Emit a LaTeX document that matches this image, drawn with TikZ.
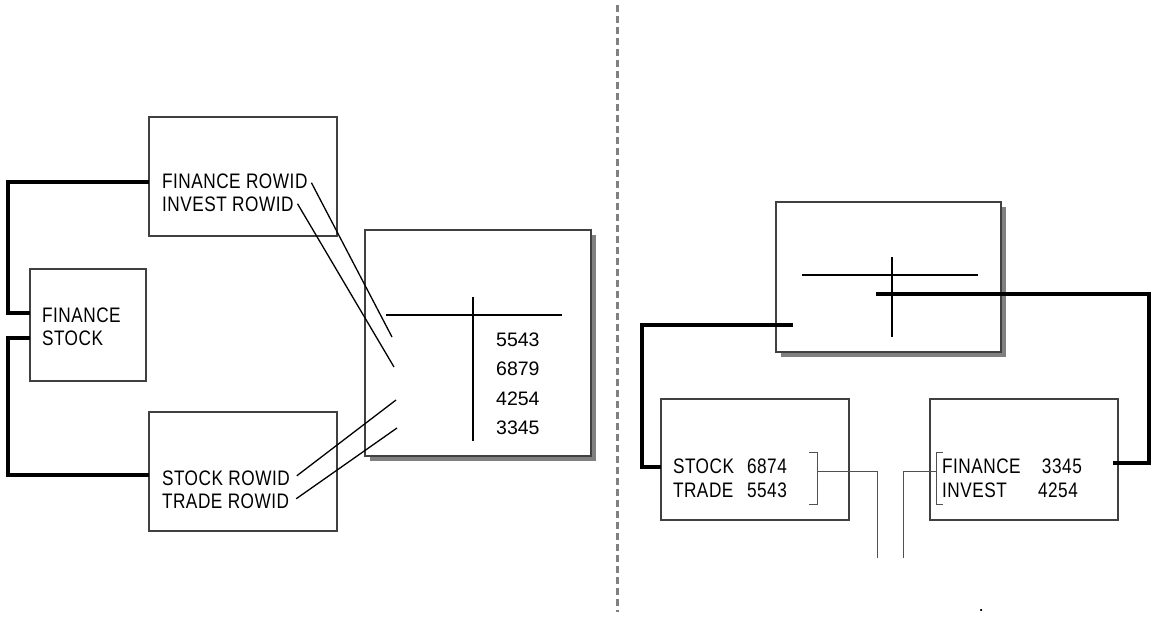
\documentclass[tikz,border=0pt]{standalone}
\usepackage{fontspec}
\setmainfont{Liberation Sans}
\newfontfamily\narrowfont[FakeStretch=0.82,LetterSpace=2.5]{Liberation Sans}
\usetikzlibrary{shadows}
\definecolor{boxgray}{HTML}{404040}
\definecolor{shadowgray}{HTML}{808080}
\definecolor{brgray}{HTML}{505050}
\begin{document}
\begin{tikzpicture}[x=1pt,y=-1pt,
  box/.style={draw=boxgray, line width=1.5pt, fill=white, inner sep=0pt, outer sep=0pt, rectangle},
  shbox/.style={box, general shadow={fill=shadowgray, shadow xshift=5pt, shadow yshift=-5pt}},
  lbl/.style={font=\narrowfont\fontsize{21}{21}\selectfont, anchor=base west, inner sep=0pt, outer sep=0pt},
  num/.style={font=\fontsize{19.5}{19.5}\selectfont, anchor=base west, inner sep=0pt},
  link/.style={line width=3.4pt, line join=miter},
  thinlink/.style={line width=1.3pt},
  crossline/.style={line width=2.5pt},
  brline/.style={draw=brgray, line width=1pt},
  divider/.style={draw=shadowgray, line width=3pt, dash pattern=on 7pt off 4pt}
]
\useasboundingbox (0,0) rectangle (1155,617);

% divider
\coordinate (dv1) at (617,5);
\coordinate (dv2) at (617,612);
\draw[divider] (dv1) -- (dv2);

% ---------- left part ----------
\node[box, minimum width=188pt, minimum height=119pt] (L1) at (243,176.5) {};
\node[box, minimum width=116pt, minimum height=112pt] (L2) at (88,325) {};
\node[box, minimum width=188pt, minimum height=119pt] (L3) at (243,471.5) {};
\node[shbox, minimum width=226pt, minimum height=226pt] (R) at (478,343) {};

\node[lbl] (t1) at (162,189) {FINANCE ROWID};
\node[lbl] (t2) at (162,212) {INVEST ROWID};
\node[lbl] (t3) at (42,322) {FINANCE};
\node[lbl] (t4) at (42,345) {STOCK};
\node[lbl] (t5) at (162,485) {STOCK ROWID};
\node[lbl] (t6) at (162,508) {TRADE ROWID};

\node[num] (n1) at (496,346) {5543};
\node[num] (n2) at (496,375.5) {6879};
\node[num] (n3) at (496,405) {4254};
\node[num] (n4) at (496,434) {3345};

% cross in R
\coordinate (rh1) at (386,315); \coordinate (rh2) at (562,315);
\coordinate (rv1) at (473,297); \coordinate (rv2) at (473,441);
\draw[crossline] (rh1) -- (rh2);
\draw[crossline] (rv1) -- (rv2);

% diagonal pointers
\coordinate (e1) at (392,337);
\coordinate (e2) at (394,367);
\coordinate (e3) at (396,400);
\coordinate (e4) at (397,428);
\draw[thinlink] ([xshift=4pt,yshift=-1pt]t1.east) -- (e1);
\draw[thinlink] ([xshift=4pt,yshift=1pt]t2.east) -- (e2);
\draw[thinlink] ([xshift=7pt,yshift=2pt]t5.east) -- (e3);
\draw[thinlink] ([xshift=7pt,yshift=2pt]t6.east) -- (e4);

% thick left links
\draw[link] (L1.west |- 0,182) -- (8,182) -- (8,313) -- (L2.west |- 0,313);
\draw[link] (L2.west |- 0,338) -- (8,338) -- (8,475) -- (L3.west |- 0,475);

% ---------- right part ----------
\node[shbox, minimum width=225pt, minimum height=150pt] (T) at (888.5,277) {};
\node[box, minimum width=188pt, minimum height=121pt] (B1) at (755,459.5) {};
\node[box, minimum width=188pt, minimum height=121pt] (B2) at (1024,459.5) {};

\coordinate (th1) at (802,275); \coordinate (th2) at (978,275);
\coordinate (tv1) at (892,257); \coordinate (tv2) at (892,337);
\draw[crossline] (th1) -- (th2);
\draw[crossline] (tv1) -- (tv2);

\node[lbl] (s1) at (673,473) {\makebox[74pt][l]{STOCK}6874};
\node[lbl] (s2) at (673,497) {\makebox[74pt][l]{TRADE}5543};
\node[lbl] (f1) at (942,473) {\makebox[100pt][l]{FINANCE}3345};
\node[lbl] (f2) at (942,497) {\makebox[96pt][l]{INVEST}4254};

% thick right links
\coordinate (ta) at (793,325);
\coordinate (tb) at (876,294);
\coordinate (b2e) at (1113,463);
\draw[link] (ta) -- (642,325) -- (642,467) -- (B1.west |- 0,467);
\draw[link] (tb) -- (1149,294) -- (1149,463) -- (b2e);

% brackets
\coordinate (k1) at (877,558);
\coordinate (k2) at (903,558);
\draw[brline] (809,452) -- (817,452) -- (817,504) -- (809,504);
\draw[brline] (943,452) -- (936,452) -- (936,504) -- (943,504);
\draw[brline] (817,471) -- (877,471) -- (k1);
\draw[brline] (936,471) -- (903,471) -- (k2);

\node[num, font=\fontsize{19}{19}\selectfont] (dot) at (978.5,611) {.};
\end{tikzpicture}
\end{document}
